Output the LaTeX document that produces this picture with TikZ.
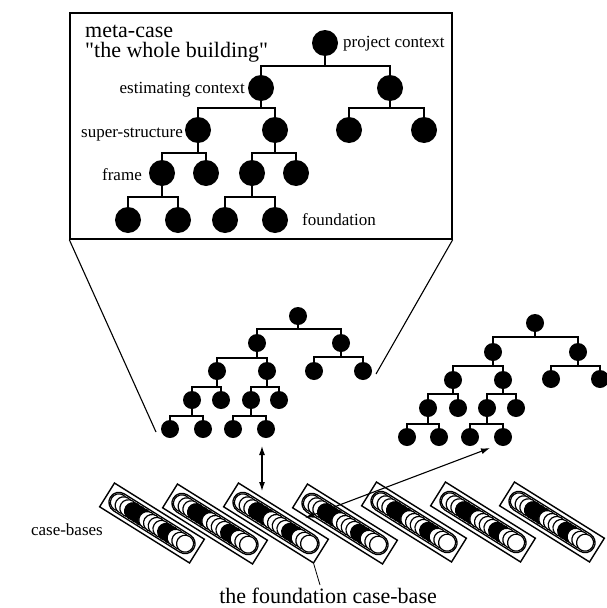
\documentclass[tikz,border=0pt]{standalone}
\usepackage{fontspec}
\setmainfont{Liberation Serif}
\usetikzlibrary{arrows.meta,backgrounds}
% one tree branch: parent stem down to the bar, bar across, drops to both children
\newcommand\treebranch[4]{%
  \draw[treeline] (#1) -- (#1 |- 0,#4);
  \draw[treeline] (#2) -- (#2 |- 0,#4) -- (#3 |- 0,#4) -- (#3);}
\begin{document}
\begin{tikzpicture}[x=1pt,y=-1pt,
  bignode/.style={circle,fill=black,inner sep=0pt,minimum size=26pt},
  smallnode/.style={circle,fill=black,inner sep=0pt,minimum size=18pt},
  treeline/.style={line width=1.5pt},
  thinline/.style={line width=1.1pt},
  lbl/.style={inner sep=0pt,font=\fontsize{17}{20}\selectfont},
  biglbl/.style={inner sep=0pt,font=\fontsize{22}{26}\selectfont},
  casebox/.style={draw,line width=1.4pt,minimum width=106pt,minimum height=28pt,inner sep=0pt,rotate=-32},
  biarrow/.style={line width=1.1pt,>={Latex[length=9pt,width=6pt]},<->}
]
\useasboundingbox (0,0) rectangle (606,608);

% ---------- meta-case frame ----------
\node[draw,line width=1.4pt,minimum width=382pt,minimum height=226pt,inner sep=0pt] (meta) at (261,126) {};
\node[biglbl,anchor=base west] (title1) at (85,37) {meta-case};
\node[biglbl,anchor=base west] (title2) at (85,57) {\textquotedbl the whole building\textquotedbl};

% large tree
\node[bignode] (T0) at (325,43) {};
\node[bignode] (T1) at (261,88) {};
\node[bignode] (T2) at (390,88) {};
\node[bignode] (T3) at (198,130) {};
\node[bignode] (T4) at (275,130) {};
\node[bignode] (T5) at (349,130) {};
\node[bignode] (T6) at (424,130) {};
\node[bignode] (T7) at (162,173) {};
\node[bignode] (T8) at (206,173) {};
\node[bignode] (T9) at (252,173) {};
\node[bignode] (T10) at (296,173) {};
\node[bignode] (T11) at (128,220) {};
\node[bignode] (T12) at (178,220) {};
\node[bignode] (T13) at (225,220) {};
\node[bignode] (T14) at (275,220) {};

\node[lbl,anchor=base west] (lproj) at (343,47) {project context};
\node[lbl,anchor=base east] (lest) at (245,93) {estimating context};
\node[lbl,anchor=base east] (lsup) at (183,137) {super-structure};
\node[lbl,anchor=base east] (lfr) at (142,180) {frame};
\node[lbl,anchor=base west] (lfo) at (302,225) {foundation};

% ---------- middle tree ----------
\node[smallnode] (M0) at (298,316) {};
\node[smallnode] (M1) at (257,343) {};
\node[smallnode] (M2) at (341,343) {};
\node[smallnode] (M3) at (217,371) {};
\node[smallnode] (M4) at (267,371) {};
\node[smallnode] (M5) at (314,371) {};
\node[smallnode] (M6) at (363,371) {};
\node[smallnode] (M7) at (192,400) {};
\node[smallnode] (M8) at (221,400) {};
\node[smallnode] (M9) at (251,400) {};
\node[smallnode] (M10) at (279,400) {};
\node[smallnode] (M11) at (170,429) {};
\node[smallnode] (M12) at (203,429) {};
\node[smallnode] (M13) at (233,429) {};
\node[smallnode] (M14) at (266,429) {};

% ---------- right tree ----------
\node[smallnode] (R0) at (535,323) {};
\node[smallnode] (R1) at (493,352) {};
\node[smallnode] (R2) at (578,352) {};
\node[smallnode] (R3) at (453,380) {};
\node[smallnode] (R4) at (503,380) {};
\node[smallnode] (R5) at (551,379) {};
\node[smallnode] (R6) at (600,379) {};
\node[smallnode] (R7) at (428,408) {};
\node[smallnode] (R8) at (458,408) {};
\node[smallnode] (R9) at (487,408) {};
\node[smallnode] (R10) at (516,408) {};
\node[smallnode] (R11) at (407,437) {};
\node[smallnode] (R12) at (439,437) {};
\node[smallnode] (R13) at (470,437) {};
\node[smallnode] (R14) at (503,437) {};

\begin{scope}[on background layer]
  \treebranch{T0}{T1}{T2}{66}
  \treebranch{T1}{T3}{T4}{108}
  \treebranch{T2}{T5}{T6}{108}
  \treebranch{T3}{T7}{T8}{153}
  \treebranch{T4}{T9}{T10}{153}
  \treebranch{T7}{T11}{T12}{197}
  \treebranch{T9}{T13}{T14}{197}

  \treebranch{M0}{M1}{M2}{329}
  \treebranch{M1}{M3}{M4}{358}
  \treebranch{M2}{M5}{M6}{357}
  \treebranch{M3}{M7}{M8}{387}
  \treebranch{M4}{M9}{M10}{387}
  \treebranch{M7}{M11}{M12}{416}
  \treebranch{M9}{M13}{M14}{416}

  \treebranch{R0}{R1}{R2}{337}
  \treebranch{R1}{R3}{R4}{366}
  \treebranch{R2}{R5}{R6}{366}
  \treebranch{R3}{R7}{R8}{394}
  \treebranch{R4}{R9}{R10}{394}
  \treebranch{R7}{R11}{R12}{424}
  \treebranch{R9}{R13}{R14}{424}
\end{scope}

% zoom lines from the frame down to the middle tree
\coordinate (zoomL) at (156,432);
\coordinate (zoomR) at (376,374);
\draw[thinline] (meta.south west) -- (zoomL);
\draw[thinline] (meta.south east) -- (zoomR);

% ---------- case-bases: a framed stack of coins each ----------
\foreach \i/\x/\y in {1/152/523,2/215/524,3/276/523,4/345/524,5/414/522,6/483/522,7/552/522}{
  \node[casebox] (cb\i) at (\x,\y) {};
  \begin{scope}[shift={(\x,\y)},rotate=-32]
    \draw[line width=1.3pt,rounded corners=10pt] (-49,-10) rectangle (49,10);
    \foreach \k/\c in {0/white,1/white,2/white,3/black,4/black,5/black,6/white,7/white,8/white,9/white,10/black,11/black,12/white,13/white,14/white}{
      \filldraw[line width=1.2pt,fill=\c] ({-39+\k*78/14},0) circle (8.5pt);
    }
  \end{scope}
}

\node[lbl,anchor=base east] (lcb) at (103,535) {case-bases};
\node[biglbl,anchor=base east] (lfcb) at (437,603) {the foundation case-base};
\coordinate (lfcbtip) at (320,585);
\draw[line width=0.8pt] (cb3.south east) -- (lfcbtip);

% retrieval arrows
\coordinate (a1) at (262,446);
\coordinate (a2) at (262,491);
\draw[biarrow] (a1) -- (a2);
\coordinate (b1) at (305,518);
\coordinate (b2) at (490,448);
\draw[biarrow] (b1) -- (b2);
\end{tikzpicture}
\end{document}
